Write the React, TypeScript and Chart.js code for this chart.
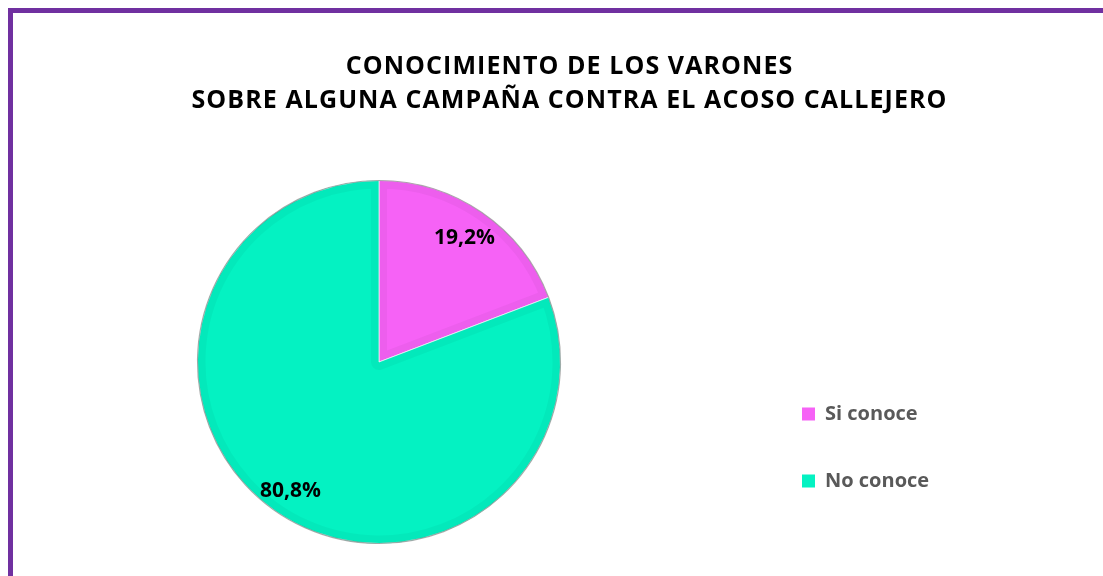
import React, { useEffect, useRef } from 'react';
import { Chart, registerables } from 'chart.js';

Chart.register(...registerables);

const titleLines = ['CONOCIMIENTO DE LOS VARONES', 'SOBRE ALGUNA CAMPAÑA CONTRA EL ACOSO CALLEJERO'];
const categories = ['Si conoce', 'No conoce'];
const values = [19.2, 80.8];
const sliceColors = ['#F662F6', '#04F2C2'];

const fmt = (v: number) => v.toFixed(1).replace('.', ',') + '%';

const LEGEND_FONT = { family: 'Open Sans', size: 20, weight: 'bold' };
const LEGEND_PAD = 47;
const LEGEND_BOX = 13;
const LEGEND_LEFT = 755;

const titlePlugin = {
  id: 'customTitle',
  afterDraw(chart: any) {
    const ctx = chart.ctx as CanvasRenderingContext2D;
    ctx.save();
    ctx.font = 'bold 25px "Open Sans"';
    ctx.fillStyle = '#000000';
    ctx.textBaseline = 'alphabetic';
    ctx.textAlign = 'left';
    (ctx as any).letterSpacing = '0px';
    const longest = titleLines[1];
    const w0 = ctx.measureText(longest).width;
    const sp = Math.max((755 - w0) / (longest.length - 1), 0);
    const widths = titleLines.map((l) => ctx.measureText(l).width + sp * (l.length - 1));
    (ctx as any).letterSpacing = sp + 'px';
    const baselines = [74, 108];
    titleLines.forEach((line, i) => {
      ctx.fillText(line, 569 - widths[i] / 2, baselines[i]);
    });
    ctx.restore();
  },
};

const bevelPlugin = {
  id: 'bevel',
  afterDatasetsDraw(chart: any) {
    const ctx = chart.ctx as CanvasRenderingContext2D;
    const meta = chart.getDatasetMeta(0);
    meta.data.forEach((arc: any) => {
      const { x, y, startAngle, endAngle, outerRadius } = arc.getProps(
        ['x', 'y', 'startAngle', 'endAngle', 'outerRadius'],
        true
      );
      ctx.save();
      ctx.beginPath();
      ctx.moveTo(x, y);
      ctx.arc(x, y, outerRadius, startAngle, endAngle);
      ctx.closePath();
      ctx.clip();
      ctx.lineJoin = 'round';
      ctx.strokeStyle = 'rgba(0,0,0,0.035)';
      ctx.lineWidth = 16;
      ctx.stroke();
      ctx.restore();
      ctx.save();
      ctx.beginPath();
      ctx.arc(x, y, outerRadius, startAngle, endAngle);
      ctx.strokeStyle = 'rgba(110,110,110,0.55)';
      ctx.lineWidth = 1.2;
      ctx.stroke();
      ctx.restore();
    });
  },
};

const labelPlugin = {
  id: 'sliceLabels',
  afterDatasetsDraw(chart: any) {
    const ctx = chart.ctx as CanvasRenderingContext2D;
    const meta = chart.getDatasetMeta(0);
    const data = chart.data.datasets[0].data as number[];
    ctx.save();
    ctx.font = 'bold 21px "Open Sans"';
    ctx.fillStyle = '#000000';
    ctx.textAlign = 'center';
    ctx.textBaseline = 'middle';
    meta.data.forEach((arc: any, i: number) => {
      const { x, y, startAngle, endAngle, outerRadius } = arc.getProps(
        ['x', 'y', 'startAngle', 'endAngle', 'outerRadius'],
        true
      );
      const mid = (startAngle + endAngle) / 2;
      const r = outerRadius * (i === 0 ? 0.83 : 0.86);
      ctx.fillText(fmt(data[i]), x + Math.cos(mid) * r, y + Math.sin(mid) * r);
    });
    ctx.restore();
  },
};

export default function App() {
  const ref = useRef<HTMLCanvasElement | null>(null);

  useEffect(() => {
    if (!ref.current) return;
    const mctx = document.createElement('canvas').getContext('2d') as CanvasRenderingContext2D;
    mctx.font = `bold ${LEGEND_FONT.size}px "${LEGEND_FONT.family}"`;
    const tw = Math.max(...categories.map((c) => mctx.measureText(c).width));
    const legendWidth = LEGEND_PAD + LEGEND_BOX + LEGEND_FONT.size / 2 + tw + 10;
    const padRight = Math.max(1103 - LEGEND_LEFT - legendWidth, 0);

    const chart = new Chart(ref.current, {
      type: 'pie',
      data: {
        labels: categories,
        datasets: [
          {
            data: values,
            backgroundColor: sliceColors,
            borderColor: 'rgba(255,255,255,0.7)',
            borderWidth: 1,
            radius: 181.5,
          } as any,
        ],
      },
      options: {
        responsive: false,
        animation: false,
        layout: { padding: { left: 3, right: padRight, top: 186, bottom: 38 } },
        plugins: {
          title: { display: false },
          tooltip: { enabled: false },
          legend: {
            display: true,
            position: 'right',
            align: 'end',
            labels: {
              boxWidth: LEGEND_BOX,
              boxHeight: LEGEND_BOX,
              padding: LEGEND_PAD,
              color: '#595959',
              font: LEGEND_FONT,
              generateLabels: (c: any) =>
                (c.data.labels as string[]).map((text, i) => ({
                  text,
                  fillStyle: (c.data.datasets[0].backgroundColor as string[])[i],
                  strokeStyle: (c.data.datasets[0].backgroundColor as string[])[i],
                  lineWidth: 0,
                  hidden: false,
                  index: i,
                  fontColor: '#595959',
                })),
            },
          },
        },
      } as any,
      plugins: [bevelPlugin, labelPlugin, titlePlugin],
    });
    return () => chart.destroy();
  }, []);

  return (
    <>
      <canvas
        ref={ref}
        width={1103}
        height={576}
        style={{ position: 'absolute', left: 0, top: 0, width: 1103, height: 576 }}
      />
      <div
        style={{
          position: 'absolute',
          left: 8,
          top: 8,
          width: 1095,
          height: 568,
          boxSizing: 'border-box',
          borderTop: '5px solid #7030A0',
          borderLeft: '5px solid #7030A0',
          pointerEvents: 'none',
        }}
      />
    </>
  );
}
